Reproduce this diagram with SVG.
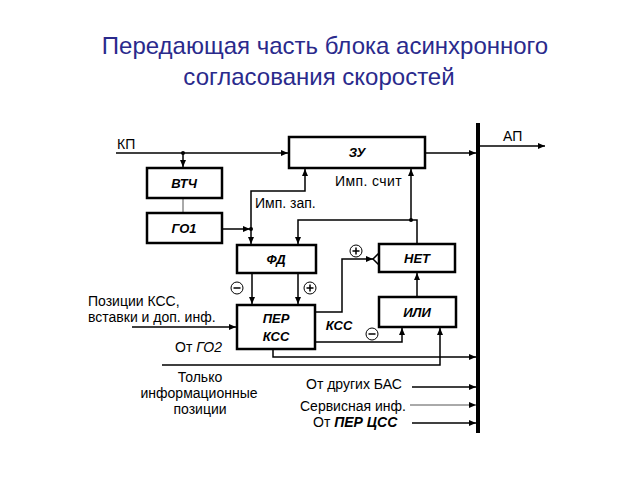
<svg xmlns="http://www.w3.org/2000/svg" width="640" height="480" viewBox="0 0 640 480">
<style>
.box{fill:#fff;stroke:#000;stroke-width:2.5}
.bl{font-family:"Liberation Sans",Arial,sans-serif;font-size:13px;font-weight:bold;font-style:italic;text-anchor:middle;fill:#000}
.t{font-family:"Liberation Sans",Arial,sans-serif;font-size:14px;fill:#000}
.c{fill:none;stroke:#000;stroke-width:1.5}
.thin{fill:none;stroke:#555;stroke-width:1}
.title{font-family:"Liberation Sans",Arial,sans-serif;font-size:24px;fill:#2a2a8c;text-anchor:middle}
.sg{fill:#fff;stroke:#000;stroke-width:1}
</style>
<defs>
<marker id="a" markerWidth="8" markerHeight="6" refX="7" refY="3" orient="auto" markerUnits="userSpaceOnUse"><path d="M0,0 L7,3 L0,6 z" fill="#000"/></marker>
</defs>
<text class="title" x="325" y="54">Передающая часть блока асинхронного</text>
<text class="title" x="319" y="85">согласования скоростей</text>

<g id="connectors">
<line x1="478" y1="123" x2="478" y2="433" stroke="#000" stroke-width="4"/>
<path class="c" d="M116,153 H288" marker-end="url(#a)"/>
<path class="c" d="M183,153 V167" marker-end="url(#a)"/>
<circle cx="183" cy="153" r="2"/>
<path class="thin" d="M183,198 V213"/>
<path class="c" d="M222,229 H250" marker-end="url(#a)"/>
<circle cx="251" cy="229" r="2"/>
<path class="c" d="M251,229 V244" marker-end="url(#a)"/>
<path class="c" d="M251,229 V191 H305 V169" marker-end="url(#a)"/>
<path class="c" d="M417,244 V220 H411"/>
<circle cx="411" cy="220" r="2"/>
<path class="c" d="M411,220 V169" marker-end="url(#a)"/>
<path class="c" d="M411,220 H298 V244" marker-end="url(#a)"/>
<path class="c" d="M252,273 V304" marker-end="url(#a)"/>
<path class="c" d="M298,273 V304" marker-end="url(#a)"/>
<path class="c" d="M425,153 H476" marker-end="url(#a)"/>
<path class="c" d="M480,146 H545" marker-end="url(#a)"/>
<path class="c" d="M132,327 H236" marker-end="url(#a)"/>
<path class="c" d="M315,312 H342 V259 H373" marker-end="url(#a)"/>
<path class="c" d="M379,253 L373,259 L379,265"/>
<path class="c" d="M315,342 H402 V328" marker-end="url(#a)"/>
<path class="c" d="M273,349 V357 H476" marker-end="url(#a)"/>
<path class="c" d="M162,365 H440 V328" marker-end="url(#a)"/>
<path class="c" d="M417,297 V273" marker-end="url(#a)"/>
<path class="c" d="M412,387 H476" marker-end="url(#a)"/>
<path class="thin" d="M410,405 H476" stroke="#000" marker-end="url(#a)"/>
<path class="c" d="M412,423 H476" marker-end="url(#a)"/>
</g>

<g id="signs">
<circle class="sg" cx="237" cy="288" r="6"/><path d="M233.5,288 H240.5" stroke="#000" stroke-width="1.5"/>
<circle class="sg" cx="310" cy="288" r="6"/><path d="M306.5,288 H313.5 M310,284.5 V291.5" stroke="#000" stroke-width="1.5"/>
<circle class="sg" cx="356" cy="251" r="6"/><path d="M352.5,251 H359.5 M356,247.5 V254.5" stroke="#000" stroke-width="1.5"/>
<circle class="sg" cx="372" cy="334" r="6"/><path d="M368.5,334 H375.5" stroke="#000" stroke-width="1.5"/>
</g>

<g id="zu"><rect class="box" x="289" y="137" width="136" height="31"/><text class="bl" x="357" y="157">ЗУ</text></g>
<g id="vtch"><rect class="box" x="147" y="168" width="75" height="30"/><text class="bl" x="184" y="188">ВТЧ</text></g>
<g id="go1"><rect class="box" x="147" y="213" width="75" height="30"/><text class="bl" x="184" y="233">ГО1</text></g>
<g id="fd"><rect class="box" x="237" y="245" width="79" height="28"/><text class="bl" x="276" y="264">ФД</text></g>
<g id="perkss"><rect class="box" x="237" y="305" width="78" height="44"/><text class="bl" x="276" y="323" font-size="14">ПЕР</text><text class="bl" x="276" y="341" font-size="14">КСС</text></g>
<g id="net"><rect class="box" x="379" y="244" width="76" height="28"/><text class="bl" x="417" y="263">НЕТ</text></g>
<g id="ili"><rect class="box" x="379" y="297" width="77" height="30"/><text class="bl" x="417" y="317">ИЛИ</text></g>

<g id="labels">
<text class="t" x="117" y="149">КП</text>
<text class="t" x="503" y="141">АП</text>
<text class="t" x="335" y="186" letter-spacing="0.4">Имп. счит</text>
<text class="t" x="255" y="208" font-size="13.5">Имп. зап.</text>
<text class="t" x="88" y="306">Позиции КСС,</text>
<text class="t" x="88" y="322">вставки и доп. инф.</text>
<text class="t" x="175" y="352">От <tspan font-style="italic">ГО2</tspan></text>
<text class="bl" x="339" y="330">КСС</text>
<text class="t" x="200" y="382" text-anchor="middle">Только</text>
<text class="t" x="199" y="398" text-anchor="middle">информационные</text>
<text class="t" x="200" y="414" text-anchor="middle">позиции</text>
<text class="t" x="306" y="389">От других БАС</text>
<text class="t" x="300" y="411">Сервисная инф.</text>
<text class="t" x="313" y="427">От <tspan font-style="italic" font-weight="bold">ПЕР ЦСС</tspan></text>
</g>
</svg>
